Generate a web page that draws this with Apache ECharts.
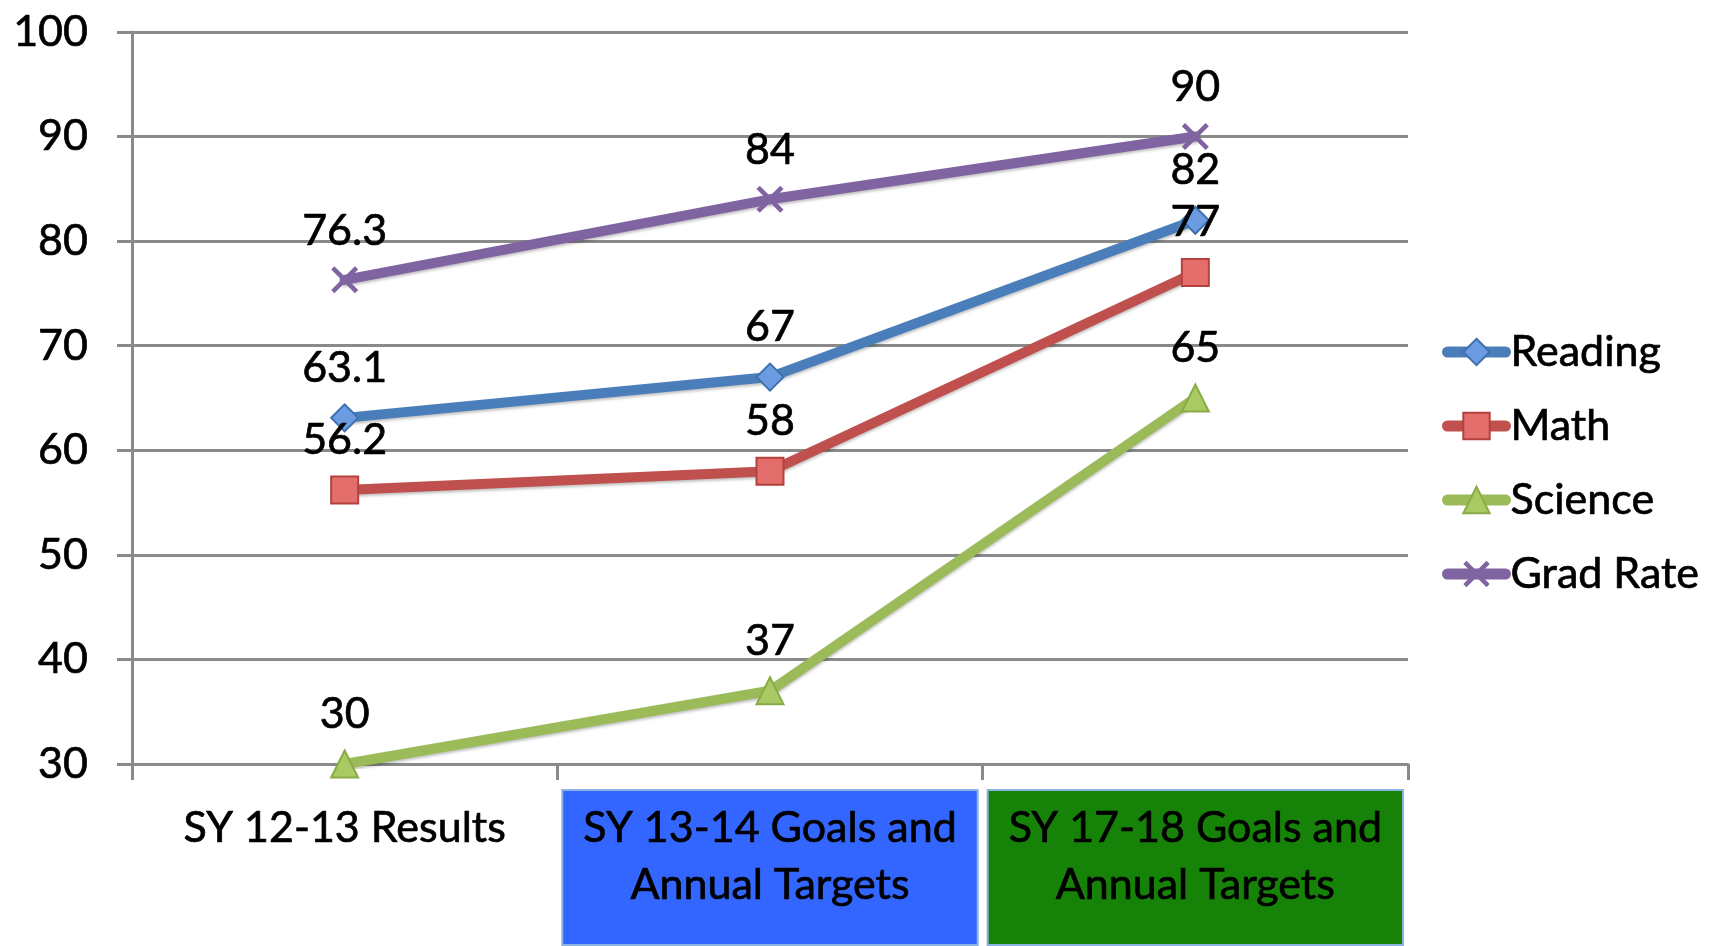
<!DOCTYPE html>
<html>
<head>
<meta charset="utf-8">
<script src="https://cdn.jsdelivr.net/npm/echarts@6/dist/echarts.min.js"></script>
<style>
html,body{margin:0;padding:0;background:#fff;}
#chart{width:1718px;height:946px;}
</style>
</head>
<body>
<div id="chart"></div>
<script>
// ---- data ----
const categories = ['SY 12-13 Results', 'SY 13-14 Goals and\nAnnual Targets', 'SY 17-18 Goals and\nAnnual Targets'];
const seriesNames = ['Reading', 'Math', 'Science', 'Grad Rate'];
const reading = [63.1, 67, 82];
const math = [56.2, 58, 77];
const science = [30, 37, 65];
const gradRate = [76.3, 84, 90];
const yMin = 30, yMax = 100, yStep = 10;

// ---- styles ----
const FONT = 'Lato, "Open Sans", sans-serif';
const GRID_GRAY = '#8a8a8a';
const TXT = { color: '#000', textBorderColor: '#000', textBorderWidth: 0.7 };
const boxBg = [null, '#3366ff', '#178208'];
const X_PATH = 'path://M0,1.2 L1.2,0 L5,3.8 L8.8,0 L10,1.2 L6.2,5 L10,8.8 L8.8,10 L5,6.2 L1.2,10 L0,8.8 L3.8,5 Z';

const xData = categories.map((c, i) => {
  const ts = {};
  if (boxBg[i]) {
    ts.backgroundColor = boxBg[i];
    ts.borderColor = '#8db3e2';
    ts.borderWidth = 2;
    ts.padding = [9, 20, 30, 20];
  } else {
    ts.padding = [9, 0, 0, 0];
  }
  return { value: c, textStyle: ts };
});

const styles = [
  { line: '#4a7ebb', fill: '#6b9be0', border: '#3f6fae', symbol: 'diamond' },
  { line: '#c0504d', fill: '#e46e6b', border: '#b3423f', symbol: 'rect' },
  { line: '#9bbb59', fill: '#a8ca62', border: '#8aab48', symbol: 'triangle' },
  { line: '#8064a2', fill: '#8064a2', border: '#8064a2', symbol: X_PATH }
];
const values = [reading, math, science, gradRate];

const chart = echarts.init(document.getElementById('chart'), null, { renderer: 'canvas' });
chart.setOption({
  backgroundColor: '#fff',
  animation: false,
  textStyle: { fontFamily: FONT },
  grid: { left: 132, right: 310, top: 32, bottom: 168, containLabel: false },
  legend: {
    orient: 'vertical',
    left: 1442,
    top: 329,
    padding: 0,
    itemWidth: 58,
    itemHeight: 33,
    itemGap: 28,
    data: seriesNames,
    lineStyle: { width: 11, cap: 'round' },
    textStyle: Object.assign({ fontSize: 43, fontFamily: FONT, lineHeight: 46 }, TXT)
  },
  xAxis: {
    type: 'category',
    data: xData,
    boundaryGap: true,
    axisLine: { show: true, lineStyle: { color: GRID_GRAY, width: 3 } },
    axisTick: { show: true, length: 16, interval: 0, lineStyle: { color: GRID_GRAY, width: 3 } },
    axisLabel: Object.assign({
      interval: 0,
      margin: 27,
      fontSize: 43,
      lineHeight: 57,
      fontFamily: FONT
    }, TXT)
  },
  yAxis: {
    type: 'value',
    min: yMin,
    max: yMax,
    interval: yStep,
    axisLine: { show: true, lineStyle: { color: GRID_GRAY, width: 3 } },
    axisTick: { show: true, length: 15, lineStyle: { color: GRID_GRAY, width: 3 } },
    splitLine: { show: true, lineStyle: { color: GRID_GRAY, width: 3 } },
    axisLabel: Object.assign({ margin: 44, fontSize: 43, fontFamily: FONT }, TXT)
  },
  series: seriesNames.map((name, i) => ({
    name,
    type: 'line',
    data: values[i],
    symbol: styles[i].symbol,
    symbolSize: 27,
    showAllSymbol: true,
    z: 2 + i,
    lineStyle: {
      color: styles[i].line,
      width: 10,
      cap: 'round',
      shadowColor: 'rgba(0,0,0,0.25)',
      shadowBlur: 3,
      shadowOffsetY: 2
    },
    itemStyle: {
      color: styles[i].fill,
      borderColor: styles[i].border,
      borderWidth: i === 3 ? 0 : 2
    },
    label: Object.assign({
      show: true,
      position: 'top',
      distance: 14,
      fontSize: 43,
      fontFamily: FONT
    }, TXT)
  }))
});
</script>
</body>
</html>
